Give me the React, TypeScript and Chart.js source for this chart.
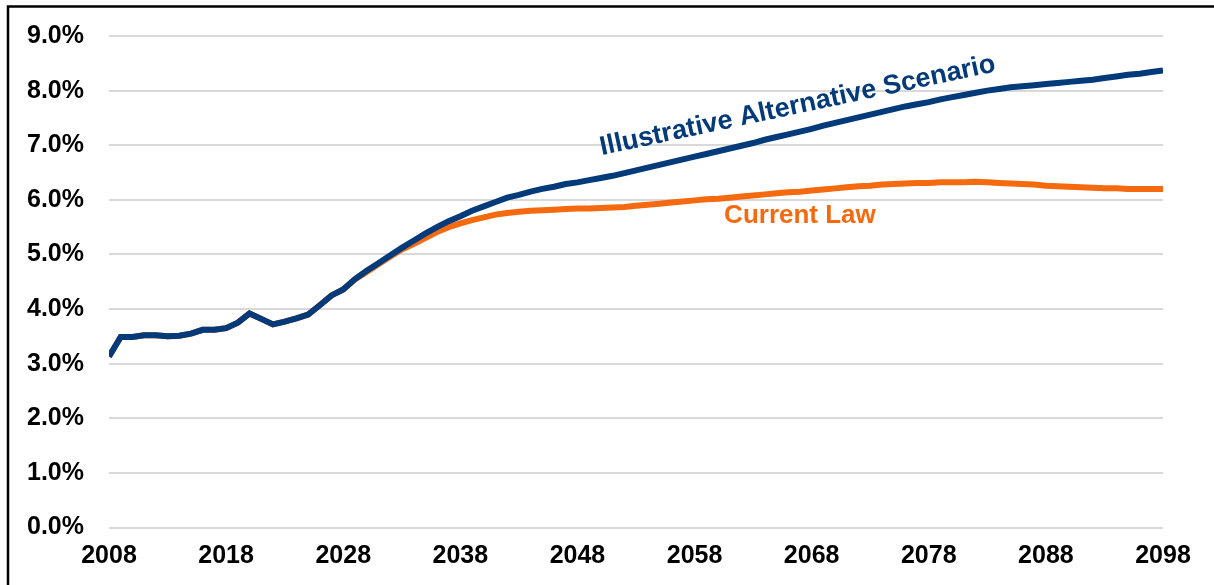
import React, { useEffect, useRef } from "react";
import { Chart, registerables } from "chart.js";

Chart.register(...registerables);

// Years 2008–2098, one value per year (percent of GDP)
const startYear = 2008;
const endYear = 2098;

const alternativeScenario = [
  3.13, 3.49, 3.49, 3.52, 3.52, 3.50, 3.51, 3.55, 3.62, 3.62,
  3.65, 3.75, 3.92, 3.82, 3.72, 3.77, 3.83, 3.90, 4.07, 4.25,
  4.36, 4.55, 4.70, 4.84, 4.98, 5.12, 5.25, 5.38, 5.50, 5.61,
  5.70, 5.80, 5.88, 5.96, 6.04, 6.09, 6.15, 6.20, 6.24, 6.29,
  6.32, 6.36, 6.40, 6.44, 6.49, 6.54, 6.59, 6.64, 6.69, 6.74,
  6.79, 6.84, 6.89, 6.94, 6.99, 7.04, 7.10, 7.15, 7.20, 7.25,
  7.30, 7.36, 7.41, 7.46, 7.51, 7.56, 7.61, 7.66, 7.71, 7.75,
  7.79, 7.84, 7.88, 7.92, 7.96, 8.00, 8.03, 8.06, 8.08, 8.10,
  8.12, 8.14, 8.16, 8.18, 8.20, 8.23, 8.26, 8.29, 8.31, 8.34,
  8.37,
];

const currentLaw = [
  3.13, 3.49, 3.49, 3.52, 3.52, 3.50, 3.51, 3.55, 3.62, 3.62,
  3.65, 3.75, 3.92, 3.82, 3.72, 3.77, 3.83, 3.90, 4.07, 4.25,
  4.36, 4.54, 4.68, 4.82, 4.96, 5.09, 5.19, 5.30, 5.41, 5.50,
  5.57, 5.63, 5.68, 5.73, 5.76, 5.78, 5.80, 5.81, 5.82, 5.83,
  5.84, 5.84, 5.85, 5.86, 5.87, 5.89, 5.91, 5.93, 5.95, 5.97,
  5.99, 6.01, 6.02, 6.04, 6.06, 6.08, 6.10, 6.12, 6.14, 6.15,
  6.17, 6.19, 6.21, 6.23, 6.25, 6.26, 6.28, 6.29, 6.30, 6.31,
  6.31, 6.32, 6.32, 6.32, 6.33, 6.32, 6.31, 6.30, 6.29, 6.28,
  6.26, 6.25, 6.24, 6.23, 6.22, 6.21, 6.21, 6.20, 6.20, 6.20,
  6.20,
];

// Series labels drawn on the plot, anchored in data units (year, percent)
const seriesLabels = [
  { text: "Illustrative Alternative Scenario", year: 2066.8, value: 7.72, angle: -12, size: 27, color: "#023A7A" },
  { text: "Current Law", year: 2067, value: 5.70, angle: 0, size: 26, color: "#F5690F" },
];

const FONT = "'Liberation Sans', Arial, Helvetica, sans-serif";
const NAVY = "#023A7A";
const ORANGE = "#F5690F";

// The canvas sits 4px above the page top; the plot area starts 40px into it
const CANVAS_SHIFT = 4;
const CANVAS_W = 1214;
const CANVAS_H = 585 + CANVAS_SHIFT;

const toPoints = (values: number[]) =>
  values.map((v, i) => ({ x: startYear + i, y: v }));

// Black frame along the top and left edges
const framePlugin = {
  id: "frame",
  afterDraw(chart: any) {
    const ctx = chart.ctx;
    const top = 6.5 + CANVAS_SHIFT;
    ctx.save();
    ctx.strokeStyle = "#000";
    ctx.lineWidth = 2.5;
    ctx.beginPath();
    ctx.moveTo(8, chart.height);
    ctx.lineTo(8, top);
    ctx.lineTo(chart.width, top);
    ctx.stroke();
    ctx.restore();
  },
};

const seriesLabelPlugin = {
  id: "seriesLabels",
  afterDatasetsDraw(chart: any) {
    const ctx = chart.ctx;
    const xs = chart.scales.x;
    const ys = chart.scales.y;
    ctx.save();
    ctx.textAlign = "center";
    ctx.textBaseline = "middle";
    for (const l of seriesLabels) {
      const px = xs.getPixelForValue(l.year);
      const py = ys.getPixelForValue(l.value);
      ctx.save();
      ctx.translate(px, py);
      ctx.rotate((l.angle * Math.PI) / 180);
      ctx.font = `bold ${l.size}px ${FONT}`;
      ctx.fillStyle = l.color;
      ctx.fillText(l.text, 0, 0);
      ctx.restore();
    }
    ctx.restore();
  },
};

export default function App() {
  const canvasRef = useRef<HTMLCanvasElement | null>(null);

  useEffect(() => {
    if (!canvasRef.current) return;
    const chart = new Chart(canvasRef.current, {
      type: "line",
      data: {
        datasets: [
          {
            label: "Current Law",
            data: toPoints(currentLaw),
            borderColor: ORANGE,
            borderWidth: 6,
            pointRadius: 0,
            tension: 0,
            order: 2,
          },
          {
            label: "Illustrative Alternative Scenario",
            data: toPoints(alternativeScenario),
            borderColor: NAVY,
            borderWidth: 6,
            pointRadius: 0,
            tension: 0,
            order: 1,
          },
        ],
      },
      options: {
        animation: false,
        responsive: false,
        maintainAspectRatio: false,
        layout: { autoPadding: false, padding: { top: 40, right: 51, bottom: 0, left: 0 } },
        plugins: {
          legend: { display: false },
          tooltip: { enabled: false },
          title: { display: false },
        },
        scales: {
          x: {
            type: "linear",
            min: startYear,
            max: endYear,
            grid: { display: false, drawTicks: false },
            border: { display: false },
            afterFit(scale: any) {
              scale.height = 57.5;
            },
            ticks: {
              stepSize: 10,
              color: "#000",
              padding: 14,
              maxRotation: 0,
              font: { family: FONT, size: 25, weight: "bold" },
              callback: (v: any) => String(v),
            },
          },
          y: {
            min: 0,
            max: 9,
            grid: { color: "#D9D9D9", lineWidth: 2, drawTicks: false },
            border: { display: false },
            afterFit(scale: any) {
              scale.width = 109;
            },
            ticks: {
              stepSize: 1,
              color: "#000",
              padding: 25,
              font: { family: FONT, size: 25, weight: "bold" },
              callback: (v: any) => Number(v).toFixed(1) + "%",
            },
          },
        },
      },
      plugins: [framePlugin, seriesLabelPlugin],
    });
    return () => chart.destroy();
  }, []);

  return (
    <div
      style={{
        position: "fixed",
        left: 0,
        top: 0,
        width: 1214,
        height: 585,
        overflow: "hidden",
        background: "#fff",
      }}
    >
      <canvas
        ref={canvasRef}
        width={CANVAS_W}
        height={CANVAS_H}
        style={{ position: "absolute", left: 0, top: -CANVAS_SHIFT, width: CANVAS_W, height: CANVAS_H }}
      />
    </div>
  );
}
